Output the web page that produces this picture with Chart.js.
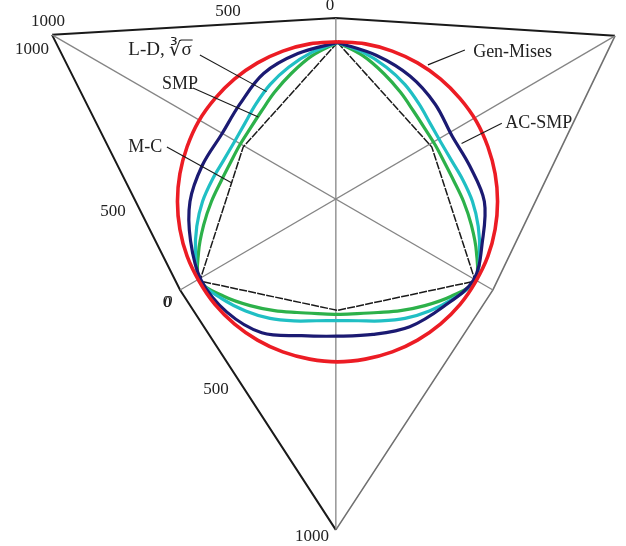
<!DOCTYPE html>
<html>
<head>
<meta charset="utf-8">
<script src="https://cdn.jsdelivr.net/npm/chart.js@4.4.1/dist/chart.umd.min.js"></script>
<style>
  html, body { margin: 0; padding: 0; background: #fff; }
  canvas { display: block; }
</style>
</head>
<body>
<canvas id="pi" width="626" height="546"></canvas>
<script>
// ---- data (deviatoric plane, stress units; triangle vertices = 1000) ----

// Lode angle, degrees away from a compression meridian (0 = compression, 60 = extension)
const lodeAngles = [0, 10, 20, 30, 40, 50, 60];

// radius of each isotropic criterion at those Lode angles
const genMises   = [484, 485, 485, 485, 485, 485, 486];
const ladeDuncan = [482, 458, 433, 409, 385, 367, 361];
const smp        = [482, 448, 412, 382, 358, 345, 342];

// Mohr-Coulomb hexagon: radius at compression corner, at extension corner
const mohrCoulomb = [482, 330];

// AC-SMP is anisotropic: radius all the way round, every 15 deg,
// starting at the upper compression meridian and turning counter-clockwise
const acSmpDirections = [90, 105, 120, 135, 150, 165, 180, 195, 210, 225, 240, 255,
                         270, 285, 300, 315, 330, 345, 360, 375, 390, 405, 420, 435];
const acSmp = [482, 464, 448, 418, 406, 424, 447, 461, 477, 474, 459, 421,
               408, 417, 438, 452, 476, 455, 445, 415, 400, 418, 439, 458];

// principal stress frame: 1000-vertices and the 0-points between them
// order: top-left vertex, top 0, top-right vertex, right 0, bottom vertex, left 0
const frameX = [-865, -5, 841, 471, -5, -477];
const frameY = [505, 556, 502, -268, -995, -268];

// tick labels along the frame
const tickLabels = ['1000', '1000', '500', '0', '500', '0', '0', '500', '1000'];
const tickX = [-877, -926, -332, -23, -680, -517, -514, -368, -77];
const tickY = [544, 462, 577, 595, -29, -305, -307, -571, -1016];

// criterion names and their leader lines
const names   = ['L-D, \u221B\u03C3', 'SMP', 'M-C', 'Gen-Mises', 'AC-SMP'];
const nameX   = [-634, -532, -634, 411, 508];
const nameY   = [459, 356, 165, 453, 238];
const leaderFrom = [[-417, 444], [-438, 344], [-517, 165], [386, 459], [498, 237]];
const leaderTo   = [[-215, 333], [-240, 256], [-320, 56], [274, 414], [376, 176]];

// ---- geometry helpers ----
const rad = d => d * Math.PI / 180;
const pt = (r, deg) => ({ x: r * Math.cos(rad(deg)), y: r * Math.sin(rad(deg)) });

// isotropic curve: same Lode-angle profile on all six sectors
function isoCurve(radii) {
  const out = [];
  for (let d = 90; d <= 450; d += 10) {
    const m = ((d - 90) % 120 + 120) % 120;
    const theta = m <= 60 ? m : 120 - m;
    out.push(pt(radii[lodeAngles.indexOf(theta)], d));
  }
  return out;
}
function hexagon(rc, re) {
  const out = [];
  for (let i = 0; i <= 6; i++) out.push(pt(i % 2 === 0 ? rc : re, 90 + 60 * i));
  return out;
}
function polarLoop(dirs, radii) {
  const out = dirs.map((d, i) => pt(radii[i], d));
  out.push(out[0]);
  return out;
}
const F = i => ({ x: frameX[i], y: frameY[i] });

// ---- layout: 0.33 px per unit, origin at the centre of the plane ----
const PX = 0.33, W = 626, H = 546, CX = 337.5, CY = 201.5;

const line = (data, color, width, extra) => Object.assign({
  data, showLine: true, borderColor: color, borderWidth: width,
  pointRadius: 0, pointHoverRadius: 0, fill: false, tension: 0
}, extra || {});

const datasets = [
  line(isoCurve(genMises), '#ec1c24', 3.6, { tension: 0.35 }),
  line(polarLoop(acSmpDirections, acSmp), '#1b1a72', 3.2, { tension: 0.35 }),
  line(isoCurve(ladeDuncan), '#20bfc4', 3.2, { tension: 0.35 }),
  line(isoCurve(smp), '#2cb14a', 3.2, { tension: 0.35 }),
  line(hexagon(mohrCoulomb[0], mohrCoulomb[1]), '#1a1a1a', 1.5, { borderDash: [8, 1.2] }),
  // principal axes through the origin
  line([F(1), F(4)], '#858585', 1.3),
  line([F(0), F(3)], '#858585', 1.3),
  line([F(2), F(5)], '#858585', 1.3),
  // frame edges
  line([F(0), F(1), F(2)], '#1a1a1a', 2),
  line([F(0), F(5), F(4)], '#1a1a1a', 2),
  line([F(2), F(3), F(4)], '#707070', 1.6)
];

const annotate = {
  id: 'annotate',
  afterDatasetsDraw(chart) {
    const { ctx, scales: { x, y } } = chart;
    const px = v => x.getPixelForValue(v), py = v => y.getPixelForValue(v);
    ctx.save();
    ctx.strokeStyle = '#1a1a1a';
    ctx.lineWidth = 1.1;
    leaderFrom.forEach((a, i) => {
      const b = leaderTo[i];
      ctx.beginPath();
      ctx.moveTo(px(a[0]), py(a[1]));
      ctx.lineTo(px(b[0]), py(b[1]));
      ctx.stroke();
    });
    ctx.fillStyle = '#222';
    ctx.textBaseline = 'middle';
    ctx.textAlign = 'center';
    tickLabels.forEach((t, i) => {
      ctx.font = (i === 6 ? 'italic ' : '') + '17px "Liberation Serif"';
      ctx.fillText(t, px(tickX[i]), py(tickY[i]));
    });
    ctx.textAlign = 'left';
    ctx.font = '18px "Liberation Serif"';
    names.forEach((t, i) => {
      ctx.font = (i === 0 ? '19px' : '18px') + ' "Liberation Serif"';
      ctx.fillText(t, px(nameX[i]), py(nameY[i]));
    });
    // vinculum of the cube root
    ctx.font = '19px "Liberation Serif"';
    const head = ctx.measureText('L-D, \u221B').width;
    const sig = ctx.measureText('\u03C3').width;
    const x0 = px(nameX[0]) + head - 1, yb = py(nameY[0]) - 10;
    ctx.lineWidth = 1;
    ctx.beginPath();
    ctx.moveTo(x0, yb);
    ctx.lineTo(x0 + sig + 2, yb);
    ctx.stroke();
    ctx.restore();
  }
};

new Chart(document.getElementById('pi'), {
  type: 'scatter',
  data: { datasets },
  options: {
    responsive: false,
    animation: false,
    events: [],
    layout: { padding: 0 },
    plugins: { legend: { display: false }, tooltip: { enabled: false } },
    scales: {
      x: { type: 'linear', display: false, min: -CX / PX, max: (W - CX) / PX },
      y: { type: 'linear', display: false, min: -(H - CY) / PX, max: CY / PX }
    }
  },
  plugins: [annotate]
});
</script>
</body>
</html>
